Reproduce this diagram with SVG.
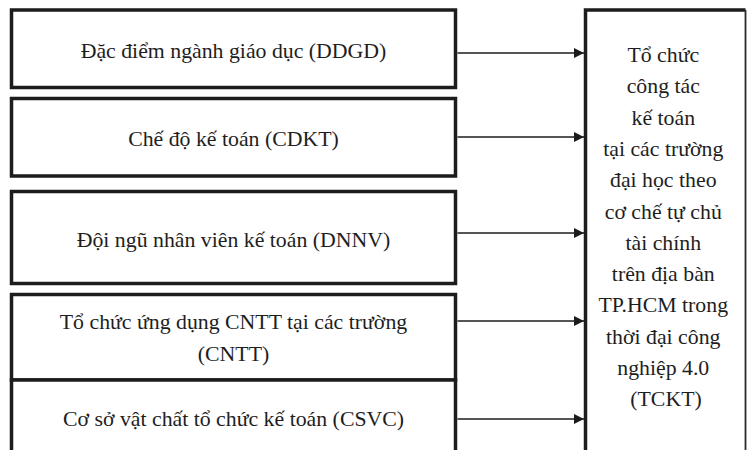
<svg xmlns="http://www.w3.org/2000/svg" width="747" height="450" viewBox="0 0 747 450">
<style>
.box{fill:#fff;stroke:#1c1c1c;stroke-width:3.5}
text{font-family:'Liberation Serif','Times New Roman',Tinos,'DejaVu Serif',serif;font-size:21.8px;fill:#1e1e1e;text-anchor:middle}
.c{stroke:#1c1c1c;stroke-width:1.6;fill:none;marker-end:url(#ah)}
</style>
<defs>
<marker id="ah" markerUnits="userSpaceOnUse" markerWidth="11" markerHeight="11" refX="10" refY="5" orient="auto">
<path d="M0,0 L10,5 L0,10 Z" fill="#1c1c1c"/>
</marker>
</defs>
<rect width="747" height="450" fill="#fff"/>
<g id="DDGD">
<rect class="box" x="11.5" y="10" width="444" height="77.5"/>
<text x="233.5" y="58">Đặc điểm ngành giáo dục (DDGD)</text>
</g>
<g id="CDKT">
<rect class="box" x="11.5" y="98.5" width="444" height="77.5"/>
<text x="233.5" y="145.5">Chế độ kế toán (CDKT)</text>
</g>
<g id="DNNV">
<rect class="box" x="11.5" y="191.5" width="444" height="92"/>
<text x="233.5" y="246.5">Đội ngũ nhân viên kế toán (DNNV)</text>
</g>
<g id="CNTT">
<rect class="box" x="11.5" y="294.5" width="444" height="85.5"/>
<text x="233.5" y="329">Tổ chức ứng dụng CNTT tại các trường</text>
<text x="233.5" y="361">(CNTT)</text>
</g>
<g id="CSVC">
<path class="box" d="M11.5,455 V380 H455.5 V455"/>
<text x="233.5" y="425.5">Cơ sở vật chất tổ chức kế toán (CSVC)</text>
</g>
<g id="TCKT">
<path d="M585.5,455 V10 H745.5" fill="#fff" stroke="#1c1c1c" stroke-width="3.5"/>
<path d="M745.5,10 V455" fill="none" stroke="#2a2a2a" stroke-width="1.8"/>
<text x="666">
<tspan x="666" y="62">Tổ chức</tspan>
<tspan x="666" y="93.3">công tác</tspan>
<tspan x="666" y="124.6">kế toán</tspan>
<tspan x="666" y="155.9">tại các trường</tspan>
<tspan x="666" y="187.2">đại học theo</tspan>
<tspan x="666" y="218.5">cơ chế tự chủ</tspan>
<tspan x="666" y="249.8">tài chính</tspan>
<tspan x="666" y="281.1">trên địa bàn</tspan>
<tspan x="666" y="312.4">TP.HCM trong</tspan>
<tspan x="666" y="343.7">thời đại công</tspan>
<tspan x="666" y="375">nghiệp 4.0</tspan>
<tspan x="666" y="406.3">(TCKT)</tspan>
</text>
</g>
<g id="connectors">
<line class="c" x1="457.5" y1="53" x2="584" y2="53"/>
<line class="c" x1="457.5" y1="137" x2="584" y2="137"/>
<line class="c" x1="457.5" y1="233" x2="584" y2="233"/>
<line class="c" x1="457.5" y1="321" x2="584" y2="321"/>
<line class="c" x1="457.5" y1="419" x2="584" y2="419"/>
</g>
</svg>
